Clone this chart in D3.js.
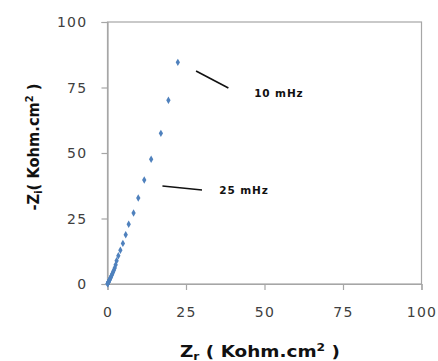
<!DOCTYPE html>
<html>
<head>
<meta charset="utf-8">
<script src="https://cdn.jsdelivr.net/npm/d3@7"></script>
<style>
  html, body { margin: 0; padding: 0; background: #fff; }
  svg { display: block; }
</style>
</head>
<body>
<svg id="chart" width="438" height="361"></svg>
<script>
// Data (Kohm.cm2)
const zReal = [22.4, 19.4, 17.0, 13.9, 11.7, 9.8, 8.3, 6.75, 5.8, 4.9, 4.1, 3.45, 2.9, 2.6, 2.3, 2.0, 1.75, 1.5, 1.3, 1.1, 0.9, 0.75, 0.6, 0.48, 0.37, 0.28, 0.2, 0.13, 0.07, 0.03];
const zImag = [84.6, 70.1, 57.5, 47.6, 39.7, 32.8, 27.1, 22.8, 18.8, 15.5, 12.9, 10.8, 8.9, 7.3, 6.1, 5.2, 4.5, 3.8, 3.2, 2.7, 2.2, 1.8, 1.45, 1.15, 0.88, 0.65, 0.45, 0.28, 0.15, 0.06];
const xTicks = [0, 25, 50, 75, 100];
const yTicks = [0, 25, 50, 75, 100];
const annotations = [
  { label: "10 mHz", from: [28.2, 81.3], to: [38.5, 74.8], text: [46.7, 71.3] },
  { label: "25 mHz", from: [17.5, 37.4], to: [30.1, 35.9], text: [35.6, 34.3] }
];

const svg = d3.select("#chart");
const L = 107.5, R = 421.5, T = 22, B = 284;
const x = d3.scaleLinear().domain([0, 100]).range([L, R]);
const y = d3.scaleLinear().domain([0, 100]).range([B, T]);
const gridColor = "#a6a6a6";
const labelColor = "#404040";

// plot border
svg.append("rect").attr("x", L).attr("y", T).attr("width", R - L).attr("height", B - T)
  .attr("fill", "none").attr("stroke", gridColor).attr("stroke-width", 1.2);

// axes
const xAxis = svg.append("g").attr("transform", `translate(0,${B})`)
  .call(d3.axisBottom(x).tickValues(xTicks).tickSize(6).tickPadding(14));
const yAxis = svg.append("g").attr("transform", `translate(${L},0)`)
  .call(d3.axisLeft(y).tickValues(yTicks).tickSize(6).tickPadding(14));
[xAxis, yAxis].forEach(g => {
  g.select(".domain").attr("stroke", gridColor).attr("stroke-width", 1.2);
  g.selectAll(".tick line").attr("stroke", gridColor).attr("stroke-width", 1.2);
  g.selectAll(".tick text").attr("fill", labelColor)
    .attr("font-family", "DejaVu Sans").attr("font-size", 14).attr("letter-spacing", 1.3);
});
yAxis.selectAll(".tick text").attr("dy", "0.35em");
xAxis.selectAll(".tick text").attr("dy", "0.9em");

// points (diamonds)
const diamond = d3.symbol().type(d3.symbolDiamond).size(16);
svg.append("g").selectAll("path").data(zReal.map((v, i) => [v, zImag[i]])).join("path")
  .attr("d", diamond)
  .attr("transform", d => `translate(${x(d[0])},${y(d[1])})`)
  .attr("fill", "#4f81bd");

// annotations
annotations.forEach(a => {
  svg.append("line")
    .attr("x1", x(a.from[0])).attr("y1", y(a.from[1]))
    .attr("x2", x(a.to[0])).attr("y2", y(a.to[1]))
    .attr("stroke", "#111").attr("stroke-width", 1.6);
  svg.append("text").attr("x", x(a.text[0])).attr("y", y(a.text[1]))
    .attr("font-family", "DejaVu Sans").attr("font-weight", "bold").attr("font-size", 10.5)
    .attr("letter-spacing", 0.9).attr("fill", "#111").text(a.label);
});

// x title
const xt = svg.append("text").attr("x", 260).attr("y", 357).attr("text-anchor", "middle")
  .attr("font-family", "DejaVu Sans").attr("font-weight", "bold").attr("font-size", 15)
  .attr("fill", "#111").attr("textLength", 160).attr("lengthAdjust", "spacingAndGlyphs");
xt.append("tspan").text("Z");
xt.append("tspan").attr("font-size", 10).attr("dy", 3).text("r");
xt.append("tspan").attr("dy", -3).text(" ( Kohm.cm");
xt.append("tspan").attr("font-size", 10).attr("dy", -6).text("2");
xt.append("tspan").attr("dy", 6).text(" )");

// y title
const yt = svg.append("text").attr("transform", "translate(39,147) rotate(-90)")
  .attr("text-anchor", "middle")
  .attr("font-family", "DejaVu Sans").attr("font-weight", "bold").attr("font-size", 15)
  .attr("fill", "#111").attr("textLength", 127).attr("lengthAdjust", "spacingAndGlyphs");
yt.append("tspan").text("-Z");
yt.append("tspan").attr("font-size", 10).attr("dy", 3).text("i");
yt.append("tspan").attr("dy", -3).text("( Kohm.cm");
yt.append("tspan").attr("font-size", 10).attr("dy", -6).text("2");
yt.append("tspan").attr("dy", 6).text(" )");
</script>
</body>
</html>
